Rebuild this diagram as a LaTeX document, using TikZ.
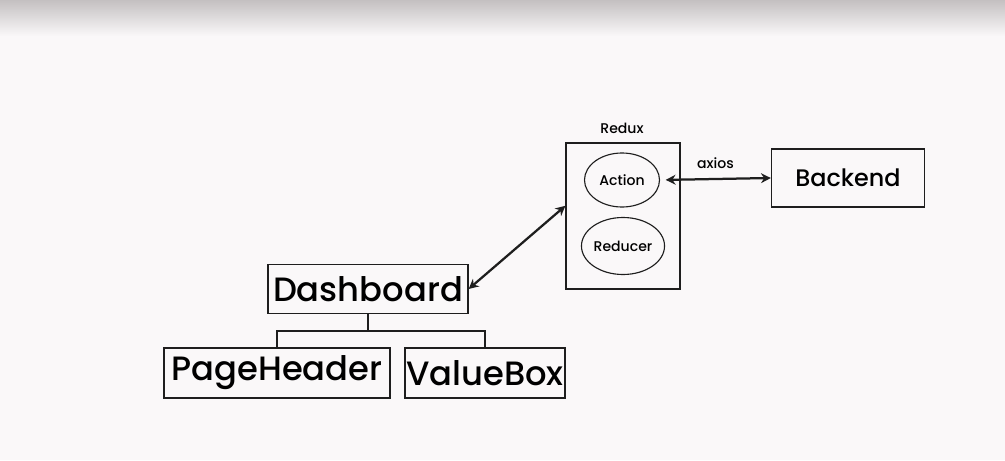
\documentclass[tikz,border=0pt]{standalone}
\usepackage{fontspec}
\setmainfont{Poppins}[UprightFont=* Medium]
\usetikzlibrary{arrows.meta,positioning,backgrounds,shapes.geometric}
\definecolor{paper}{HTML}{FAF8F9}
\definecolor{shadow}{HTML}{C4C0C1}
\definecolor{ink}{HTML}{1E1E1E}
\newcommand{\fsize}[1]{\fontsize{#1}{#1}\selectfont}

\begin{document}
\begin{tikzpicture}[x=0.025cm,y=-0.025cm,
        comp/.style={draw=ink,line width=0.9pt,inner sep=0pt},
        blob/.style={draw=ink,ellipse,line width=0.8pt,inner sep=0pt,font=\fsize{10}},
        link/.style={draw=ink,line width=1.6pt,{Stealth[length=7pt,width=7pt]}-{Stealth[length=7pt,width=7pt]}}
        ]
            % Background
            \fill[paper] (0,0) rectangle (1005,460);
            \shade[top color=shadow,bottom color=paper] (0,0) rectangle (1005,36);

            \node[comp,minimum width=5cm,minimum height=1.225cm,font=\fsize{24}] (dash) at (368,289) {Dashboard};
            \node[comp,minimum width=5.65cm,minimum height=1.25cm,font=\fsize{24}] (ph) at (277,373) {PageHeader};
            \node[comp,minimum width=4cm,minimum height=1.25cm,font=\fsize{24}] (vb) at (485,373) {ValueBox};

            \node[comp,minimum width=2.85cm,minimum height=3.65cm] (redux) at (623,216) {};
            \node[font=\fsize{10}] (rlabel) at (622,128) {Redux};
            \node[blob,minimum width=1.875cm,minimum height=1.35cm] (act) at (622,180) {Action};
            \node[blob,minimum width=1.9cm,minimum height=1.425cm] (red) at (623,246) {Reducer};

            \node[comp,minimum width=3.825cm,minimum height=1.45cm,font=\fsize{17}] (back) at (848,178) {Backend};

            % tree
            \coordinate (split) at (368,331);
            \draw[ink,line width=0.9pt] (dash.south) -- (split) -| (ph.north);
            \draw[ink,line width=0.9pt] (split) -| (vb.north);

            % arrows
            \draw[link,shorten <=4pt] (act.east) -- (back.west) node[midway,above=3pt,font=\fsize{10}] (ax) {axios};
            \draw[link] (dash.east) -- (redux.170);
    \end{tikzpicture}
\end{document}
